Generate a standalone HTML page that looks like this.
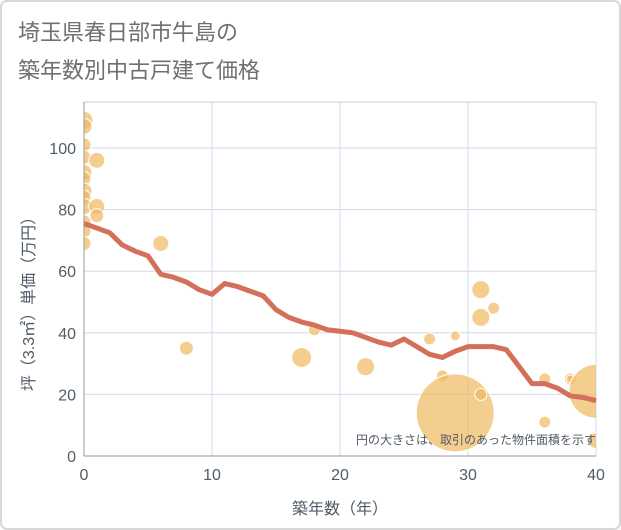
<!DOCTYPE html>
<html><head><meta charset="utf-8"><style>
body{margin:0;background:#fff;}
svg{display:block;font-family:"Liberation Sans","Noto Sans CJK JP",sans-serif;}
</style></head><body>
<svg id="c" width="621" height="530" viewBox="0 0 621 530">
<rect x="1" y="1" width="619" height="528" rx="6" fill="#fff" stroke="#d8d8d8" stroke-width="2"/>
<text x="18" y="40" font-size="22" fill="#707070">埼玉県春日部市牛島の</text>
<text x="18" y="78" font-size="22" fill="#707070">築年数別中古戸建て価格</text>
<g id="grid"></g>
<g id="bubbles"></g>
<g id="line"></g>
<g id="axes"></g>
<text x="596" y="444" font-size="12" fill="#4f5b66" text-anchor="end">円の大きさは、取引のあった物件面積を示す</text>
<text x="340" y="514" font-size="16" fill="#4f5b66" text-anchor="middle">築年数（年）</text>
<text transform="translate(34,300) rotate(-90)" font-size="16" fill="#4f5b66" text-anchor="middle">坪（3.3㎡）単価（万円）</text>
</svg>
<script>
const xTicks=[0,10,20,30,40];
const yTicks=[0,20,40,60,80,100];
const bubbleX=[0,0,0,0,1,0,0,0,0,0,1,1,0,0,0,6,8,17,18,22,27,28,29,29,31,31,31,32,36,36,38,38,40,40];
const bubbleY=[109,107,101,97,96,92,90,86,84,81,81,78,76,73,69,69,35,32,41,29,38,26,39,14,54,45,20,48,25,11,25,25,21,5];
const bubbleR=[9,8,7,7,8,8,7,8,7,8,8,7,7,7,7,8,7,10,6,9,6,6,5,39,9,9,6,6,6,6,6,4,27,8];
const lineX=[0,1,2,3,4,5,6,7,8,9,10,11,12,13,14,15,16,17,18,19,20,21,22,23,24,25,26,27,28,29,30,31,32,33,34,35,36,37,38,39,40];
const lineY=[75.5,74,72.5,68.5,66.5,65,59,58,56.5,54,52.5,56,55,53.5,52,47.5,45,43.5,42.5,41,40.5,40,38.5,37,36,38,35.5,33,32,34,35.5,35.5,35.5,34.5,29,23.5,23.5,22,19.5,19,18];
const L=84,R=596,T=102,B=456;
const xs=v=>L+v*(R-L)/40;
const ys=v=>B-v*3.08;
const NS="http://www.w3.org/2000/svg";
function mk(t,a,p){const e=document.createElementNS(NS,t);for(const k in a)e.setAttribute(k,a[k]);p.appendChild(e);return e;}
const g=document.getElementById('grid'),ax=document.getElementById('axes');
mk('rect',{x:L,y:T,width:R-L,height:B-T,fill:'none',stroke:'#c8d0d8'},g);
xTicks.forEach(v=>{
 const l=mk('line',{x1:xs(v),x2:xs(v),y1:T,y2:B,stroke:'#cfdbe8'},g);
 
 
 const t=mk('text',{x:xs(v),y:B+24,'font-size':16,fill:'#4f5b66','text-anchor':'middle'},ax);t.textContent=v;
 
 
});
yTicks.forEach(v=>{
 const l=mk('line',{x1:L,x2:R,y1:ys(v),y2:ys(v),stroke:'#cfdbe8'},g);
 
 
 const t=mk('text',{x:L-8,y:ys(v)+6,'font-size':16,fill:'#4f5b66','text-anchor':'end'},ax);t.textContent=v;
 
 
});
mk('line',{x1:L,x2:L,y1:T,y2:B,stroke:'#999'},ax);
mk('line',{x1:L,x2:R,y1:B,y2:B,stroke:'#999'},ax);
const bg=document.getElementById('bubbles');
const cl=mk('clipPath',{id:'clip'},bg);mk('rect',{x:L,y:T,width:R-L,height:B-T},cl);
bg.setAttribute('clip-path','url(#clip)');
bubbleX.forEach((x,i)=>{
 const c=mk('circle',{cx:xs(x),cy:ys(bubbleY[i]),r:bubbleR[i],fill:'rgba(240,185,95,0.7)',stroke:'#fff','stroke-width':1},bg);
 
 
});
const lg=document.getElementById('line');
const p=mk('polyline',{points:lineX.map((x,i)=>xs(x)+','+ys(lineY[i])).join(' '),fill:'none',stroke:'#d4705a','stroke-width':5,'stroke-linejoin':'round'},lg);


</script>
</body></html>
